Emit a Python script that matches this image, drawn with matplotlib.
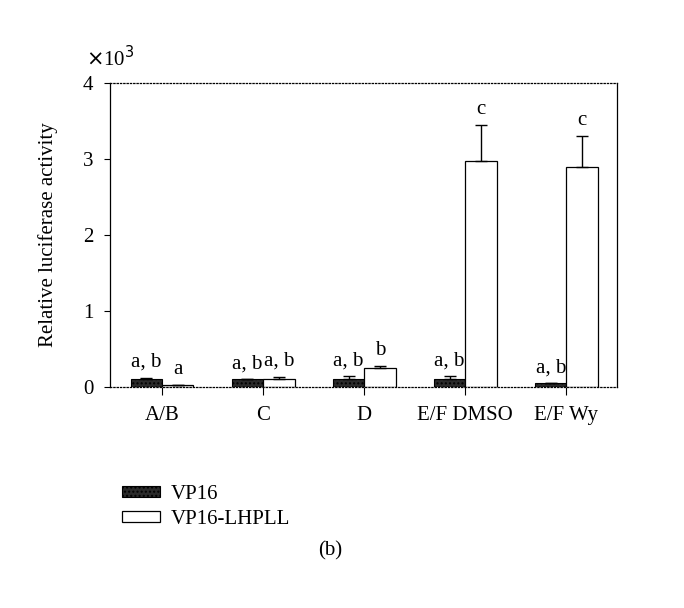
import matplotlib
matplotlib.use("Agg")
import matplotlib.pyplot as plt
import numpy as np

categories = ["A/B", "C", "D", "E/F DMSO", "E/F Wy"]
vp16 = [0.10, 0.10, 0.10, 0.10, 0.05]
vp16_err = [0.02, 0.0, 0.04, 0.04, 0.0]
lhpll = [0.03, 0.11, 0.25, 2.97, 2.89]
lhpll_err = [0.0, 0.02, 0.03, 0.48, 0.41]
vp16_letters = ["a, b", "a, b", "a, b", "a, b", "a, b"]
lhpll_letters = ["a", "a, b", "b", "c", "c"]
series_names = ["VP16", "VP16-LHPLL"]

plt.rcParams['font.family'] = ['Liberation Serif', 'DejaVu Serif']
FS = 15

fig = plt.figure(figsize=(6.84, 6.08), dpi=100)
W, H = 684, 608
ax = fig.add_axes([110 / W, 1 - 387 / H, (617 - 110) / W, (387 - 83) / H])

x = np.arange(len(categories))
w = 0.31
ax.bar(x - w / 2, vp16, w, color="#2a2a2a", edgecolor="black", linewidth=0.8,
       hatch="....", label=series_names[0], zorder=2)
ax.bar(x + w / 2, lhpll, w, color="white", edgecolor="black", linewidth=0.9,
       label=series_names[1], zorder=2)
ax.errorbar(x - w / 2, vp16, yerr=[np.zeros(len(x)), vp16_err], fmt="none",
            ecolor="black", elinewidth=1, capsize=4, capthick=1, zorder=3)
ax.errorbar(x + w / 2, lhpll, yerr=[np.zeros(len(x)), lhpll_err], fmt="none",
            ecolor="black", elinewidth=1, capsize=4, capthick=1, zorder=3)

for i in range(len(x)):
    ax.text(x[i] - w / 2, vp16[i] + vp16_err[i] + 0.08, vp16_letters[i],
            ha="center", va="bottom", fontsize=FS)
    ax.text(x[i] + w / 2, lhpll[i] + lhpll_err[i] + 0.08, lhpll_letters[i],
            ha="center", va="bottom", fontsize=FS)

ax.set_xlim(-0.515, 4.5)
ax.set_ylim(0, 4)
ax.set_yticks([0, 1, 2, 3, 4])
ax.set_yticklabels(["0", "1", "2", "3", "4"], fontsize=FS)
ax.set_xticks(x)
ax.set_xticklabels(categories, fontsize=FS)
ax.tick_params(axis="y", direction="out", length=4, width=0.8, pad=8)
ax.tick_params(axis="x", direction="out", length=6, width=0.8, pad=8)
for side in ["top", "bottom"]:
    ax.spines[side].set_linestyle(":")
    ax.spines[side].set_linewidth(0.9)
for side in ["left", "right"]:
    ax.spines[side].set_linewidth(0.9)
ax.set_ylabel("Relative luciferase activity", fontsize=FS, labelpad=18)
ax.text(0.0, 1.04, r"$\times$10$^3$", transform=ax.transAxes, ha="center",
        va="bottom", fontsize=FS)

handles, labels = ax.get_legend_handles_labels()
leg = fig.legend(handles, labels, loc="upper left",
                 bbox_to_anchor=(103 / W, 1 - 466 / H), frameon=False,
                 fontsize=FS, handlelength=1.85, handleheight=0.45,
                 labelspacing=0.3, handletextpad=0.5)

fig.text(330 / W, 1 - 551 / H, "(b)", ha="center", va="center", fontsize=FS)

fig.savefig("out.png", dpi=100)
